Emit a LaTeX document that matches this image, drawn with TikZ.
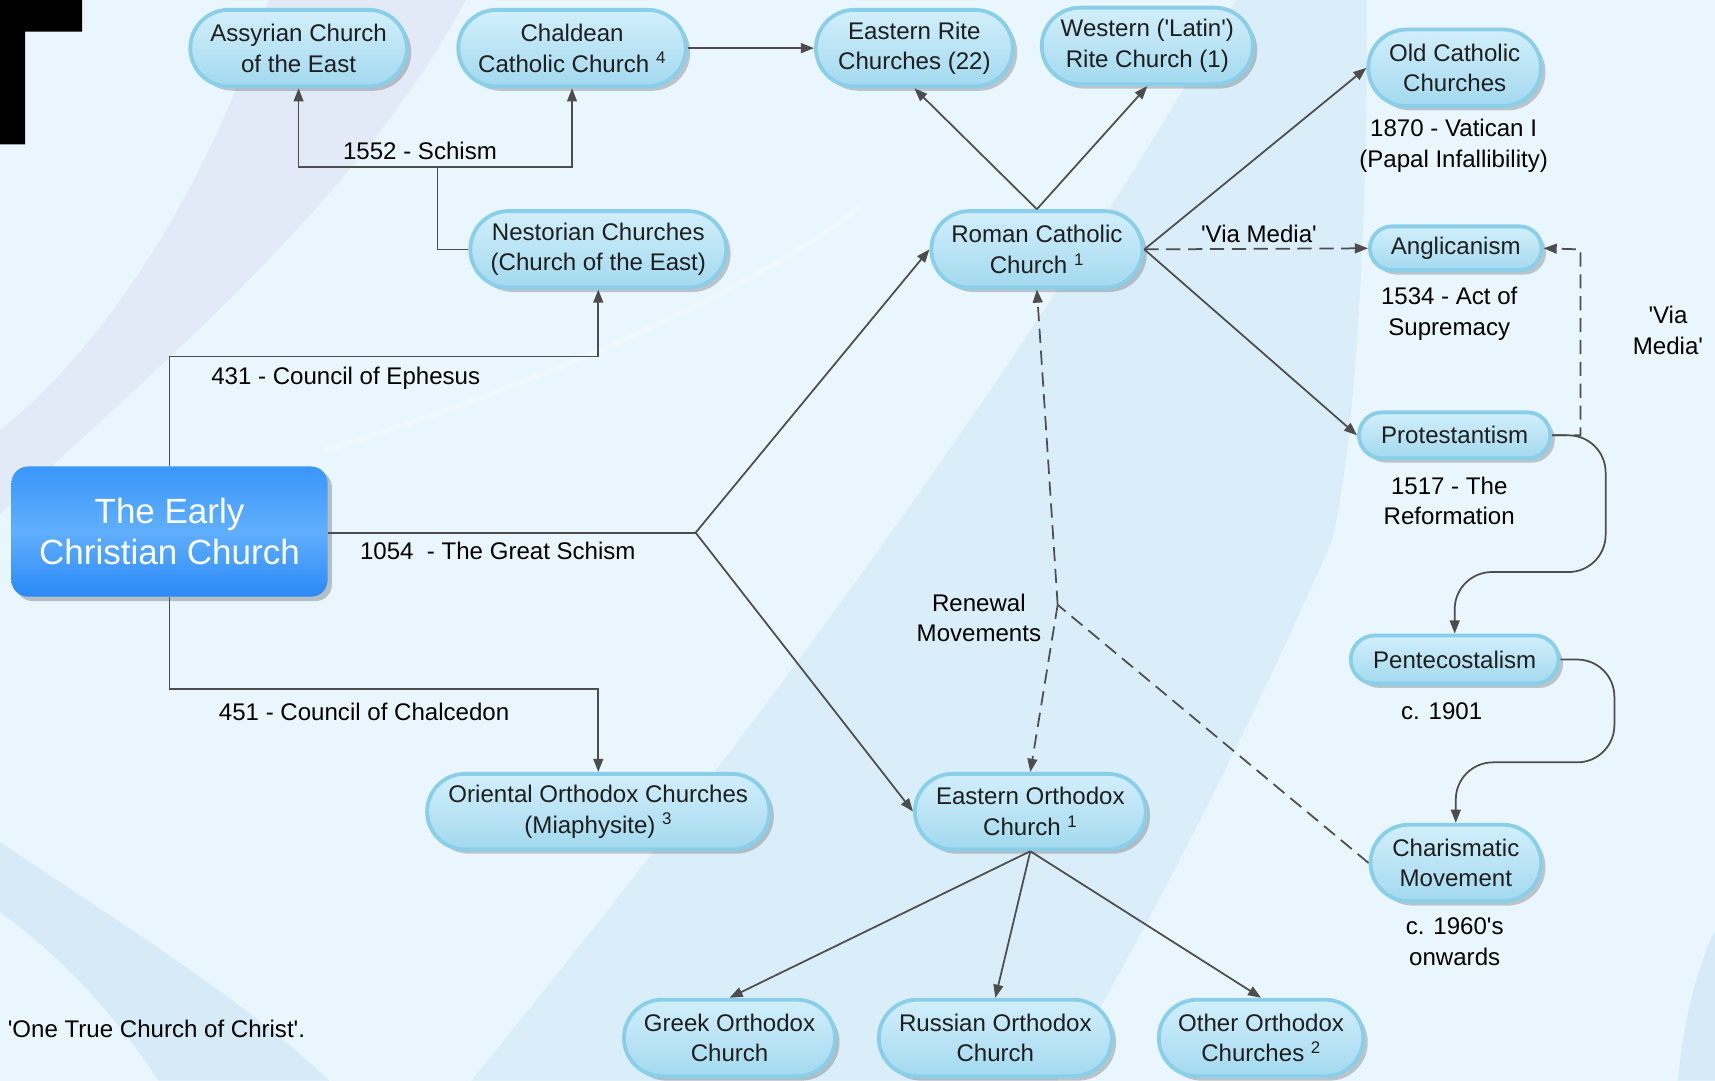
\documentclass[tikz,border=0pt]{standalone}
\usepackage{fontspec}
\newfontfamily\arialf{Liberation Sans}
\usetikzlibrary{arrows.meta,shadows,calc,shapes.misc}
\definecolor{bgc}{HTML}{EAF6FD}
\definecolor{lavc}{HTML}{E2E7F6}
\definecolor{darkband}{HTML}{D9EEF9}
\definecolor{swoosh}{HTML}{D6EBF7}
\definecolor{nodetop}{HTML}{D2EFFB}
\definecolor{nodebot}{HTML}{A3D9EF}
\definecolor{nodeborder}{HTML}{8ACFEA}
\definecolor{earlyA}{HTML}{3A96F9}
\definecolor{earlyB}{HTML}{60AFFD}
\definecolor{earlyC}{HTML}{2A89F6}
\definecolor{linec}{HTML}{4D4D4D}
\definecolor{txt}{HTML}{1E1E1E}
\begin{document}
\begin{tikzpicture}[x=1pt,y=-1pt,
  box/.style={rounded rectangle, draw=nodeborder, line width=3.5pt, top color=nodetop, bottom color=nodebot,
    align=center, text=txt, inner sep=3pt,
    font=\arialf\fontsize{22}{28}\selectfont,
    drop shadow={shadow xshift=4pt, shadow yshift=-4pt, opacity=0.2, fill=black}},
  pill/.style={box},
  earlybox/.style={draw=none, top color=earlyA, bottom color=earlyC, middle color=earlyB,
    rounded corners=15pt, align=center, text=white, inner sep=3pt,
    font=\arialf\fontsize{32}{38}\selectfont,
    drop shadow={shadow xshift=4pt, shadow yshift=-4pt, opacity=0.22, fill=black}},
  lbl/.style={align=center, inner sep=0pt, text=black, font=\arialf\fontsize{22}{28}\selectfont},
  conn/.style={draw=linec, line width=1.6pt},
  arr/.style={conn, -{Triangle[length=12pt,width=9pt]}},
  dsh/.style={dash pattern=on 13pt off 7pt}]
\useasboundingbox (0,0) rectangle (1568,988);
% background
\fill[bgc] (0,0) rectangle (1568,988);
\fill[lavc, opacity=0.8] (246,0) .. controls (180,200) and (80,330) .. (0,393) -- (0,470)
  .. controls (150,330) and (330,180) .. (426,0) -- cycle;
\fill[darkband] (431,988) .. controls (600,780) and (900,400) .. (1130,0) -- (1250,0)
  .. controls (1250,200) and (1240,400) .. (1218,494) .. controls (1150,650) and (1050,850) .. (967,988) -- cycle;
\fill[swoosh] (0,770) .. controls (120,850) and (230,920) .. (301,988) -- (145,988)
  .. controls (100,920) and (50,870) .. (0,834) -- cycle;
\fill[swoosh] (1568,850) .. controls (1545,900) and (1538,950) .. (1534,988) -- (1568,988) -- cycle;
\draw[white, opacity=0.25, line width=5pt] (296,412) .. controls (500,350) and (700,260) .. (786,189);
% black corner shape
\fill[black] (0,0) -- (75,0) -- (75,29) -- (23,29) -- (23,132) -- (0,132) -- cycle;
% nodes
\node[box, minimum width=204pt, minimum height=70pt] (assy) at (273,44) {Assyrian Church\\of the East};
\node[box, minimum width=214pt, minimum height=70pt] (chal) at (523,44) {Chaldean\\Catholic Church \textsuperscript{4}};
\node[box, minimum width=186pt, minimum height=70pt] (erite) at (836,44) {Eastern Rite\\Churches (22)};
\node[box, minimum width=199pt, minimum height=70pt] (west) at (1049,42) {Western ('Latin')\\Rite Church (1)};
\node[box, minimum width=164pt, minimum height=70pt] (old) at (1330,62) {Old Catholic\\Churches};
\node[box, minimum width=240pt, minimum height=70pt] (nest) at (547,228) {Nestorian Churches\\(Church of the East)};
\node[box, minimum width=199pt, minimum height=70pt] (roman) at (948,228) {Roman Catholic\\Church \textsuperscript{1}};
\node[pill, minimum width=163pt, minimum height=40pt] (angl) at (1331,227) {Anglicanism};
\node[pill, minimum width=181pt, minimum height=42pt] (prot) at (1330,398) {Protestantism};
\node[earlybox, minimum width=289pt, minimum height=119pt] (early) at (155,486) {The Early\\Christian Church};
\node[pill, minimum width=196pt, minimum height=44pt] (pente) at (1330,603) {Pentecostalism};
\node[box, minimum width=319pt, minimum height=69pt] (orient) at (547,742) {Oriental Orthodox Churches\\(Miaphysite) \textsuperscript{3}};
\node[box, minimum width=217pt, minimum height=69pt] (eorth) at (942,742) {Eastern Orthodox\\Church \textsuperscript{1}};
\node[box, minimum width=162pt, minimum height=70pt] (charis) at (1331,789) {Charismatic\\Movement};
\node[box, minimum width=199pt, minimum height=70pt] (greek) at (667,949) {Greek Orthodox\\Church};
\node[box, minimum width=219pt, minimum height=70pt] (russ) at (910,949) {Russian Orthodox\\Church};
\node[box, minimum width=193pt, minimum height=70pt] (other) at (1153,949) {Other Orthodox\\Churches \textsuperscript{2}};
% labels
\node[lbl] (l1552) at (384,138) {1552 - Schism};
\node[lbl, anchor=west] (l431) at (193,346) {431 - Council of Ephesus};
\node[lbl, anchor=west] (l1054) at (329,504) {1054~ - The Great Schism};
\node[lbl, anchor=west] (l451) at (200,651) {451 - Council of Chalcedon};
\node[lbl, anchor=west] (lone) at (7,941) {'One True Church of Christ'.};
\node[lbl] (l1870) at (1329,133) {1870 - Vatican I\\(Papal Infallibility)};
\node[lbl] (lvia) at (1151,214) {'Via Media'};
\node[lbl] (l1534) at (1325,287) {1534 - Act of\\Supremacy};
\node[lbl] (lvia2) at (1525,302) {'Via\\Media'};
\node[lbl] (l1517) at (1325,458) {1517 - The\\Reformation};
\node[lbl] (lren) at (895,565) {Renewal\\Movements};
\node[lbl] (l1901) at (1318,650) {c. 1901};
\node[lbl] (l1960) at (1330,861) {c. 1960's\\onwards};
% junction coordinates
\coordinate (k431) at (547,326);
\coordinate (k1552) at (400,153);
\coordinate (k1054) at (636,487);
\coordinate (k451) at (547,630);
\coordinate (kvm) at (1445,228);
\coordinate (kp1) at (1468,523);
\coordinate (kp2) at (1476,697);
\coordinate (kren) at (967,553);
% connectors
\draw[arr] (early.north) |- (k431) -- (nest.south);
\draw[conn] (nest.west) -| (k1552);
\draw[arr] (k1552) -| (assy.south);
\draw[arr] (k1552) -| (chal.south);
\draw[arr] (chal.east) -- (erite.west);
\draw[conn] (early.east |- k1054) -- (k1054);
\draw[arr] (k1054) -- (roman.west);
\draw[arr] (k1054) -- (eorth.west);
\draw[arr] (early.south) |- (k451) -- (orient.north);
\draw[arr] (roman.north) -- (erite.south);
\draw[arr] (roman.north) -- (west.south);
\draw[arr] (roman.east) -- (old.west);
\draw[arr, dsh] (roman.east) -- (angl.west);
\draw[arr] (roman.east) -- (prot.west);
\draw[arr, dsh] (prot.east) -| (kvm) -- (angl.east);
\draw[arr, rounded corners=34pt] (prot.east) -| (kp1) -| (pente.north);
\draw[arr, rounded corners=34pt] (pente.east) -| (kp2) -| (charis.north);
\draw[conn, dsh] (charis.west) -- (kren);
\draw[arr, dsh] (kren) -- (roman.south);
\draw[arr, dsh] (kren) -- (eorth.north);
\draw[arr] (eorth.south) -- (greek.north);
\draw[arr] (eorth.south) -- (russ.north);
\draw[arr] (eorth.south) -- (other.north);
\end{tikzpicture}
\end{document}
